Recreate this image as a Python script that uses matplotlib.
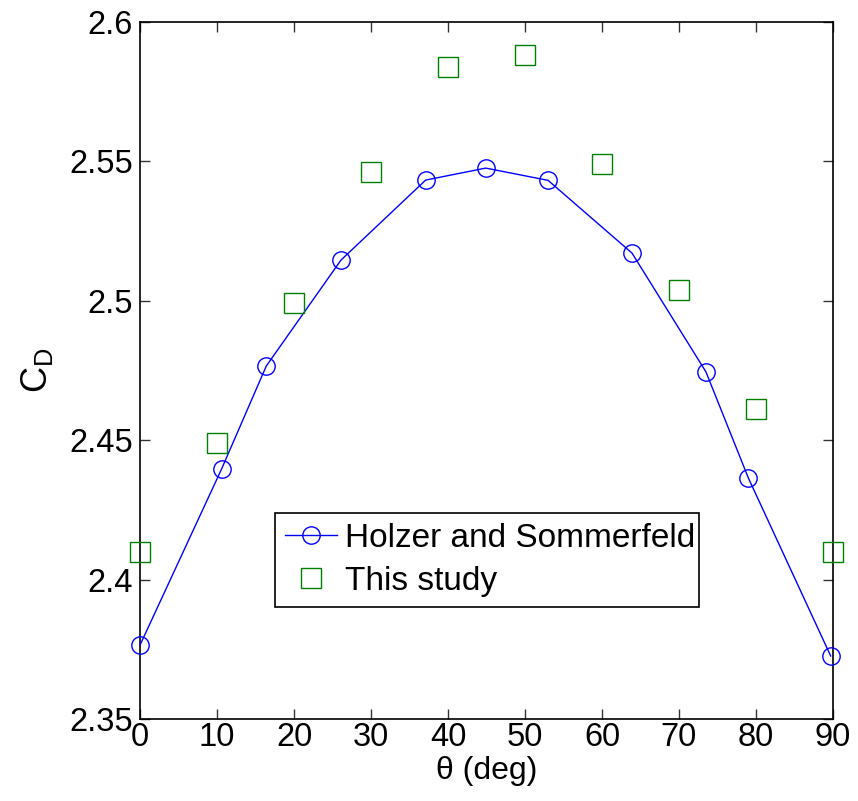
import matplotlib
matplotlib.use("Agg")
import matplotlib.pyplot as plt

plt.rcParams['font.family'] = ['Liberation Sans', 'DejaVu Sans']

holzer_theta = [0.0, 10.6, 16.4, 26.1, 37.1, 44.9, 53.0, 63.9, 73.5, 79.0, 89.7]
holzer_cd = [2.3765, 2.4397, 2.4766, 2.5146, 2.5433, 2.5476, 2.5432, 2.5171, 2.4745, 2.4365, 2.3726]
study_theta = [0, 10, 20, 30, 40, 50, 60, 70, 80, 90]
study_cd = [2.410, 2.449, 2.4992, 2.5462, 2.5839, 2.5883, 2.549, 2.5039, 2.4612, 2.410]
xticks = [0, 10, 20, 30, 40, 50, 60, 70, 80, 90]
yticks = [2.35, 2.4, 2.45, 2.5, 2.55, 2.6]
ytick_labels = ['2.35', '2.4', '2.45', '2.5', '2.55', '2.6']

fig = plt.figure(figsize=(8.58, 8.01), dpi=100)
ax = fig.add_axes([140/858, 1-719/801, 693/858, 697/801])

ax.plot(holzer_theta, holzer_cd, '-o', color='#0000ff', lw=1.0,
        markersize=12.5, markerfacecolor='none', markeredgewidth=1.0,
        label='Holzer and Sommerfeld', clip_on=False, zorder=3)
ax.plot(study_theta, study_cd, 's', color='#008000', lw=0,
        markersize=15, markerfacecolor='none', markeredgewidth=1.0,
        label='This study', clip_on=False, zorder=3)

ax.set_xlim(0, 90)
ax.set_ylim(2.35, 2.6)
ax.set_xticks(xticks)
ax.set_xticklabels([str(t) for t in xticks])
ax.set_yticks(yticks)
ax.set_yticklabels(ytick_labels)
ax.tick_params(direction='in', length=7, width=1.0, labelsize=23.5, pad=5,
               top=True, right=True, color='#333333')
ax.tick_params(axis='x', pad=2)
for s in ax.spines.values():
    s.set_linewidth(1.2)

ax.set_xlabel('θ (deg)', fontsize=23, labelpad=2)
ax.set_ylabel('$\\mathregular{C_D}$', fontsize=26, labelpad=10)

leg = ax.legend(loc='lower left', bbox_to_anchor=(0.195, 0.161, 0.612, 0.149),
                mode='expand', fontsize=24, fancybox=False, framealpha=1,
                edgecolor='black', handlelength=1.55, handletextpad=0.25,
                borderaxespad=0, borderpad=0.3, labelspacing=0.35)
leg.get_frame().set_linewidth(1.2)

fig.savefig('out.png', dpi=100)
